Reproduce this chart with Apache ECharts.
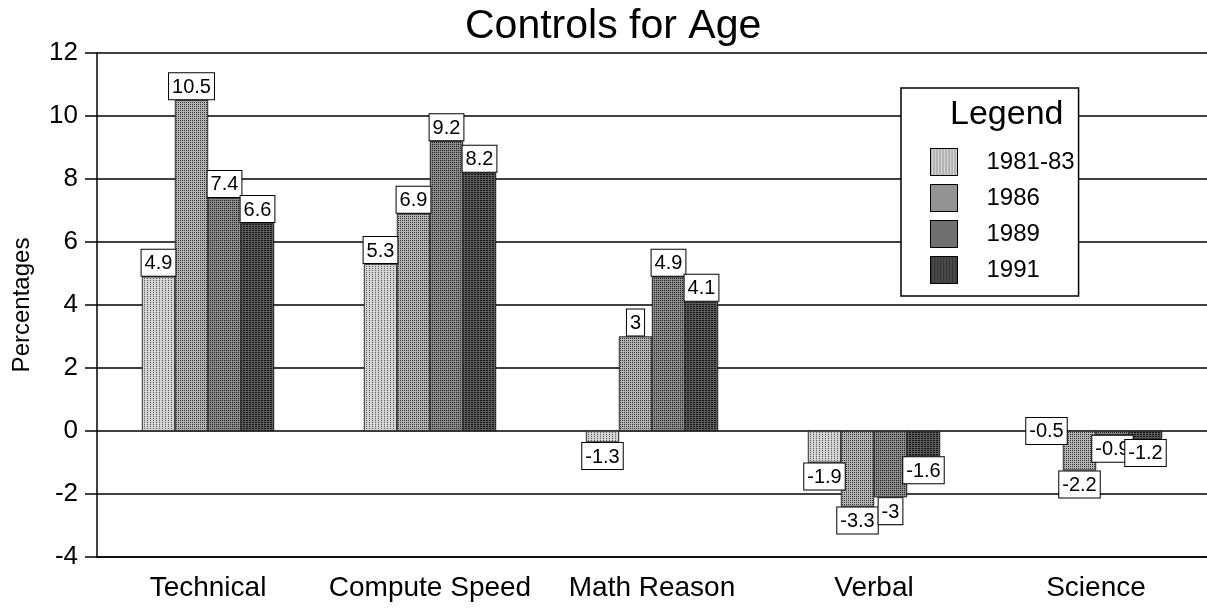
<!DOCTYPE html>
<html>
<head>
<meta charset="utf-8">
<title>Controls for Age</title>
<script src="https://cdn.jsdelivr.net/npm/echarts@6/dist/echarts.min.js"></script>
<style>
  html, body { margin: 0; padding: 0; background: #fff; }
  #main { width: 1207px; height: 610px; }
</style>
</head>
<body>
<div id="main"></div>
<script>
// categories on the x axis
const categories = ['Technical', 'Compute Speed', 'Math Reason', 'Verbal', 'Science']
const seriesNames = ['1981-83', '1986', '1989', '1991']

// bar lengths as drawn in the picture (negative bars are drawn shorter than their labels)
const bars1981 = [4.9, 5.3, -0.35, -1.0, 0]
const bars1986 = [10.5, 6.9, 3, -2.4, -1.25]
const bars1989 = [7.4, 9.2, 4.9, -2.1, -0.12]
const bars1991 = [6.6, 8.2, 4.1, -0.8, -0.25]

// printed value labels
const text1981 = ['4.9', '5.3', '-1.3', '-1.9', '-0.5']
const text1986 = ['10.5', '6.9', '3', '-3.3', '-2.2']
const text1989 = ['7.4', '9.2', '4.9', '-3', '-0.9']
const text1991 = ['6.6', '8.2', '4.1', '-1.6', '-1.2']

// y axis ticks
const yTicks = { min: -4, max: 12, step: 2 }

const FONT = '"Liberation Sans", Arial, Helvetica, sans-serif'

const fills = [
  { color: '#d4d4d4', decal: { symbol: 'rect', symbolSize: 1, dashArrayX: [1, 2], dashArrayY: [1, 1], color: '#555' } },
  { color: '#b4b4b4', decal: { symbol: 'rect', symbolSize: 1, dashArrayX: [1, 1], dashArrayY: [1, 1], color: '#333' } },
  { color: '#8a8a8a', decal: { symbol: 'rect', symbolSize: 1, dashArrayX: [1, 1], dashArrayY: [1, 1], color: '#222' } },
  { color: '#5e5e5e', decal: { symbol: 'rect', symbolSize: 1, dashArrayX: [2, 1], dashArrayY: [1, 1], color: '#111' } }
]

function makeSeries(name, bars, texts, idx) {
  return {
    name: name,
    type: 'bar',
    barWidth: 33,
    barGap: '0%',
    itemStyle: {
      color: fills[idx].color,
      decal: fills[idx].decal,
      borderColor: '#222',
      borderWidth: 0.6
    },
    label: {
      show: true,
      fontFamily: FONT,
      fontSize: 20,
      color: '#000',
      backgroundColor: '#fff',
      borderColor: '#000',
      borderWidth: 1,
      padding: [4, 3, 2, 3],
      distance: 1,
      formatter: (p) => texts[p.dataIndex]
    },
    data: bars.map((v) => ({
      value: v,
      label: { position: v > 0 ? 'top' : (v < 0 ? 'bottom' : 'inside') }
    }))
  }
}

const chart = echarts.init(document.getElementById('main'))
const option = {
  animation: false,
  backgroundColor: '#fff',
  textStyle: { fontFamily: FONT },
  title: [
    {
      text: 'Controls for Age',
      left: 460,
      top: 1,
      textStyle: { fontFamily: FONT, fontSize: 41, fontWeight: 'normal', color: '#000' }
    },
    {
      text: 'Legend',
      left: 945,
      top: 93,
      z: 10,
      textStyle: { fontFamily: FONT, fontSize: 34, fontWeight: 'normal', color: '#000' }
    }
  ],
  legend: {
    data: seriesNames,
    orient: 'vertical',
    left: 901,
    top: 88,
    padding: [60, 4, 12, 29],
    itemWidth: 27,
    itemHeight: 27,
    itemGap: 8,
    icon: 'rect',
    backgroundColor: '#fff',
    borderColor: '#000',
    borderWidth: 1.5,
    itemStyle: { borderColor: '#000', borderWidth: 1 },
    textStyle: { fontFamily: FONT, fontSize: 24, color: '#000', padding: [0, 0, 0, 24] }
  },
  grid: { left: 97, right: 0, top: 53, bottom: 53, containLabel: false },
  xAxis: {
    type: 'category',
    data: categories,
    axisLine: { onZero: false, lineStyle: { color: '#000', width: 1.5 } },
    axisTick: { alignWithLabel: true, length: 14, lineStyle: { color: '#000', width: 1.5 } },
    axisLabel: { interval: 0, fontFamily: FONT, fontSize: 28, color: '#000', margin: 17 }
  },
  yAxis: {
    type: 'value',
    min: yTicks.min,
    max: yTicks.max,
    interval: yTicks.step,
    name: 'Percentages',
    nameLocation: 'middle',
    nameGap: 63,
    nameTextStyle: { fontFamily: FONT, fontSize: 24, color: '#000' },
    axisLine: { show: true, lineStyle: { color: '#000', width: 1.5 } },
    axisTick: { show: true, length: 12, lineStyle: { color: '#000', width: 1.5 } },
    axisLabel: { fontFamily: FONT, fontSize: 26, color: '#000', margin: 19 },
    splitLine: { show: true, lineStyle: { color: '#000', width: 1.5 } }
  },
  series: [
    makeSeries(seriesNames[0], bars1981, text1981, 0),
    makeSeries(seriesNames[1], bars1986, text1986, 1),
    makeSeries(seriesNames[2], bars1989, text1989, 2),
    makeSeries(seriesNames[3], bars1991, text1991, 3)
  ]
}
chart.setOption(option)
</script>
</body>
</html>
